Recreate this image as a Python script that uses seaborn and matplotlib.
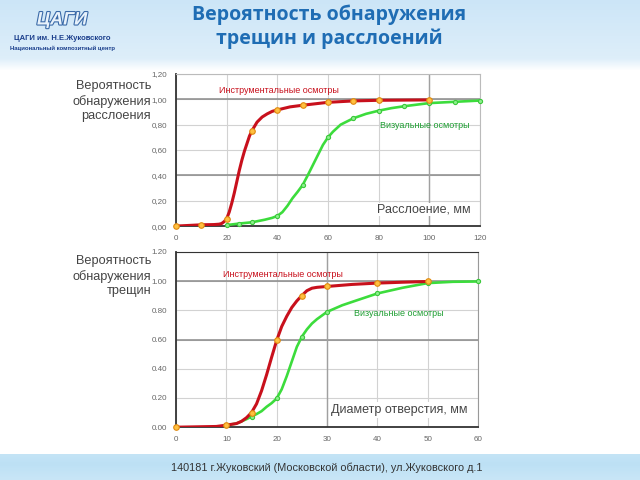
import numpy as np
import matplotlib
matplotlib.use("Agg")
import matplotlib.pyplot as plt
import matplotlib.patheffects as pe
import seaborn as sns

# --- data ---
# upper chart: delamination size, mm
top_x_ticks = [0, 20, 40, 60, 80, 100, 120]
top_y_labels = ["0,00", "0,20", "0,40", "0,60", "0,80", "1,00", "1,20"]

top_instr_pts_x = [0, 10, 20, 30, 40, 50, 60, 70, 80, 100]
top_instr_pts_y = [0.0, 0.01, 0.058, 0.753, 0.916, 0.953, 0.976, 0.987, 0.992, 0.995]
top_instr_line_x = [0, 10, 15, 17, 18, 19, 20, 21, 22, 23, 24, 25, 26, 27, 28, 29, 30,
                    32, 34, 36, 38, 40, 45, 50, 60, 70, 80, 100]
top_instr_line_y = [0.0, 0.01, 0.012, 0.015, 0.02, 0.035, 0.058, 0.11, 0.18, 0.26, 0.35,
                    0.44, 0.52, 0.59, 0.65, 0.71, 0.753, 0.82, 0.86, 0.885, 0.905, 0.916,
                    0.94, 0.953, 0.976, 0.987, 0.992, 0.995]

top_vis_pts_x = [20, 25, 30, 40, 50, 60, 70, 80, 90, 100, 110, 120]
top_vis_pts_y = [0.008, 0.02, 0.03, 0.08, 0.324, 0.70, 0.85, 0.91, 0.945, 0.97, 0.98, 0.99]
top_vis_line_x = [20, 25, 30, 35, 38, 40, 42, 44, 46, 48, 50, 52, 54, 56, 58, 60, 62, 65,
                  68, 70, 75, 80, 85, 90, 100, 110, 120]
top_vis_line_y = [0.008, 0.02, 0.03, 0.05, 0.065, 0.08, 0.11, 0.16, 0.22, 0.27, 0.324,
                  0.40, 0.48, 0.56, 0.64, 0.70, 0.745, 0.80, 0.83, 0.85, 0.885, 0.91,
                  0.93, 0.945, 0.97, 0.98, 0.99]

# lower chart: hole diameter, mm
bot_x_ticks = [0, 10, 20, 30, 40, 50, 60]
bot_y_labels = ["0.00", "0.20", "0.40", "0.60", "0.80", "1.00", "1.20"]

bot_instr_pts_x = [0, 10, 15, 20, 25, 30, 40, 50]
bot_instr_pts_y = [0.0, 0.014, 0.10, 0.595, 0.902, 0.964, 0.987, 0.998]
bot_instr_line_x = [0, 8, 10, 12, 13, 14, 15, 16, 17, 18, 19, 20, 21, 22, 23, 24, 25, 26,
                    27, 28, 30, 35, 40, 45, 50]
bot_instr_line_y = [0.0, 0.005, 0.014, 0.025, 0.04, 0.065, 0.10, 0.16, 0.25, 0.36, 0.48,
                    0.595, 0.69, 0.76, 0.82, 0.865, 0.902, 0.935, 0.952, 0.958, 0.964,
                    0.978, 0.987, 0.993, 0.998]

bot_vis_pts_x = [15, 20, 25, 30, 40, 50, 60]
bot_vis_pts_y = [0.073, 0.197, 0.62, 0.79, 0.916, 0.987, 0.998]
bot_vis_line_x = [10, 12, 14, 15, 16, 17, 18, 19, 20, 21, 22, 23, 24, 25, 26, 27, 28, 30,
                  33, 36, 40, 45, 50, 55, 60]
bot_vis_line_y = [0.014, 0.025, 0.055, 0.073, 0.09, 0.11, 0.14, 0.165, 0.197, 0.26, 0.35,
                  0.45, 0.55, 0.62, 0.67, 0.71, 0.74, 0.79, 0.835, 0.87, 0.916, 0.955,
                  0.987, 0.996, 0.998]

y_ticks = [0.0, 0.2, 0.4, 0.6, 0.8, 1.0, 1.2]

RED = "#c8101c"
GREEN = "#3cdc3c"
GREEN_TXT = "#1e9e32"

sns.set_theme(style="white")
plt.rcParams["font.family"] = ["Liberation Sans", "DejaVu Sans"]

fig = plt.figure(figsize=(6.4, 4.8), dpi=100)


def px(x, y):
    # pixel position (from top-left) to figure fraction
    return x / 640, 1 - y / 480


# background: sky header, white body, blue footer
bg = fig.add_axes([0, 0, 1, 1], zorder=-10)
rows = np.linspace(0, 1, 480)
col = np.ones((480, 3))
top_c = np.array([0.80, 0.90, 0.97])
for i, r in enumerate(rows):
    yp = r * 480
    if yp < 58:
        t = yp / 58
        col[i] = top_c * (1 - 0.35 * t) + np.array([1, 1, 1]) * 0.35 * t
    elif yp < 70:
        t = (yp - 58) / 12
        c0 = top_c * 0.65 + 0.35
        col[i] = c0 * (1 - t) + t
    elif yp >= 454:
        t = (yp - 454) / 26
        col[i] = np.array([0.74, 0.88, 0.96]) * (1 - 0.3 * abs(t - 0.4)) + 0.3 * abs(t - 0.4)
bg.imshow(col[:, None, :], aspect="auto", extent=[0, 1, 0, 1])
bg.set_axis_off()


def style_axes(ax, xticks, xmax, ylabels, dark_y, dark_x):
    ax.set_xlim(0, xmax)
    ax.set_ylim(0, 1.2)
    ax.set_xticks(xticks)
    ax.set_yticks(y_ticks)
    ax.set_yticklabels(ylabels)
    ax.grid(True, color="#d2d2d2", linewidth=0.8)
    for v in dark_y:
        ax.axhline(v, color="#8a8a8a", linewidth=1.1, zorder=1)
    for v in dark_x:
        ax.axvline(v, color="#a0a0a0", linewidth=1.0, zorder=1)
    for s in ["left", "bottom"]:
        ax.spines[s].set_color("#333333")
        ax.spines[s].set_linewidth(1.3)
    for s in ["top", "right"]:
        ax.spines[s].set_color("#bbbbbb")
        ax.spines[s].set_linewidth(0.8)
    ax.tick_params(axis="both", labelsize=5.8, colors="#666666", length=2.5,
                   width=0.8, direction="out", pad=4)
    ax.tick_params(axis="both", color="#333333")
    ax.set_xlabel("")
    ax.set_ylabel("")
    ax.set_facecolor("white")


def draw_series(ax, lx, ly, mx, my, color, mface, medge, ms, lw):
    sns.lineplot(x=lx, y=ly, ax=ax, color=color, linewidth=lw, estimator=None,
                 zorder=3)
    sns.scatterplot(x=mx, y=my, ax=ax, color=mface, edgecolor=medge, s=ms,
                    linewidth=0.8, zorder=4, clip_on=False)


# upper chart
ax1 = fig.add_axes([0.275, 0.529, 0.475, 0.317])
draw_series(ax1, top_vis_line_x, top_vis_line_y, top_vis_pts_x, top_vis_pts_y,
            GREEN, "#8cf08c", "#3cc83c", 9, 1.9)
draw_series(ax1, top_instr_line_x, top_instr_line_y, top_instr_pts_x, top_instr_pts_y,
            RED, "#ffc040", "#e08a10", 16, 2.2)
style_axes(ax1, top_x_ticks, 120, top_y_labels, [0.4, 1.0], [100])
ax1.text(17.1, 1.066, "Инструментальные осмотры", color=RED, fontsize=6.5,
         va="center", ha="left")
ax1.text(80.4, 0.797, "Визуальные осмотры", color=GREEN_TXT, fontsize=6.5,
         va="center", ha="left")
ax1.text(79.4, 0.13, "Расслоение, мм", color="#444444", fontsize=9,
         va="center", ha="left",
         bbox=dict(facecolor="white", edgecolor="none", pad=0.5))

# lower chart
ax2 = fig.add_axes([0.275, 0.110, 0.472, 0.365])
draw_series(ax2, bot_vis_line_x, bot_vis_line_y, bot_vis_pts_x, bot_vis_pts_y,
            GREEN, "#8cf08c", "#3cc83c", 9, 1.9)
draw_series(ax2, bot_instr_line_x, bot_instr_line_y, bot_instr_pts_x, bot_instr_pts_y,
            RED, "#ffc040", "#e08a10", 16, 2.2)
style_axes(ax2, bot_x_ticks, 60, bot_y_labels, [0.6, 1.0], [30])
ax2.spines["top"].set_color("#333333")
ax2.spines["right"].set_color("#999999")
ax2.text(9.4, 1.044, "Инструментальные осмотры", color=RED, fontsize=6.5,
         va="center", ha="left")
ax2.text(35.3, 0.78, "Визуальные осмотры", color=GREEN_TXT, fontsize=6.5,
         va="center", ha="left")
ax2.text(30.8, 0.117, "Диаметр отверстия, мм", color="#444444", fontsize=9,
         va="center", ha="left",
         bbox=dict(facecolor="white", edgecolor="none", pad=1.5))

# axis captions
fig.text(*px(151, 101), "Вероятность\nобнаружения\nрасслоения", ha="right",
         va="center", fontsize=9.2, color="#444444", linespacing=1.25)
fig.text(*px(151, 276), "Вероятность\nобнаружения\nтрещин", ha="right",
         va="center", fontsize=9.2, color="#444444", linespacing=1.25)

# title
fig.text(*px(329, 27), "Вероятность обнаружения\nтрещин и расслоений", ha="center",
         va="center", fontsize=14, fontweight="bold", color="#1f6db4",
         family=["Open Sans", "DejaVu Sans"], linespacing=1.2)

# logo
logo = fig.text(*px(62, 20), "ЦАГИ", ha="center", va="center", fontsize=13,
                fontweight="bold", fontstyle="italic", color="#e8f2fb")
logo.set_path_effects([pe.withStroke(linewidth=1.6, foreground="#3a6aa8")])
fig.text(*px(62, 39), "ЦАГИ им. Н.Е.Жуковского", ha="center", va="center",
         fontsize=5.5, fontweight="bold", color="#1b3f8c")
fig.text(*px(62, 48), "Национальный композитный центр", ha="center", va="center",
         fontsize=4.3, fontweight="bold", color="#1b3f8c")

# footer
fig.text(*px(171, 468), "140181 г.Жуковский (Московской области), ул.Жуковского д.1",
         ha="left", va="center", fontsize=7.8, color="#333333")

fig.savefig("out.png", dpi=100)
